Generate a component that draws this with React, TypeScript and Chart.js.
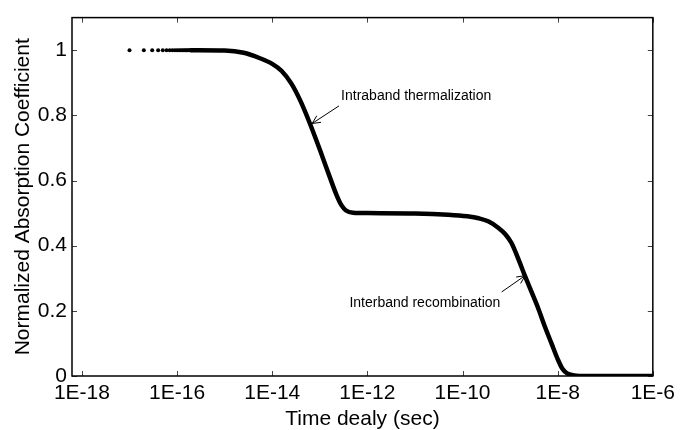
import React, { useEffect, useRef } from 'react';
import { Chart, registerables } from 'chart.js';

Chart.register(...registerables);

// Early samples drawn as individual markers (value stays at 1)
const dotTimes = [1e-17, 2e-17, 3e-17, 4e-17, 5e-17, 6e-17, 7e-17, 8e-17, 9e-17, 1e-16, 1.1e-16, 1.2e-16, 1.3e-16, 1.4e-16, 1.5e-16, 1.6e-16, 1.7e-16, 1.8e-16, 1.9e-16, 2e-16];
const dotValues = [1, 1, 1, 1, 1, 1, 1, 1, 1, 1, 1, 1, 1, 1, 1, 1, 1, 1, 1, 1];

// Main curve (time in seconds, normalized absorption)
const curveTimes = [
  2e-16, 1e-15, 2.51e-15, 5.37e-15, 1e-14, 1.58e-14, 2.51e-14, 3.98e-14, 6.31e-14, 1e-13,
  1.58e-13, 2.24e-13, 2.82e-13, 3.55e-13, 5.01e-13, 1e-12, 1e-11, 5.01e-11, 1.26e-10, 2.19e-10,
  3.55e-10, 5.62e-10, 7.94e-10, 1.07e-9, 1.48e-9, 2.04e-9, 2.82e-9, 3.89e-9, 5.37e-9, 7.41e-9,
  1e-8, 1.26e-8, 1.58e-8, 2.24e-8, 3.98e-8, 1e-7, 1e-6,
];
const curveValues = [
  1.0, 0.999, 0.992, 0.976, 0.958, 0.936, 0.898, 0.842, 0.772, 0.695,
  0.615, 0.556, 0.525, 0.508, 0.501, 0.5, 0.499, 0.495, 0.49, 0.484,
  0.474, 0.455, 0.435, 0.408, 0.36, 0.308, 0.258, 0.208, 0.152, 0.1,
  0.052, 0.022, 0.008, 0.002, 0.0, 0.0, 0.0,
];

const xTickValues = [1e-18, 1e-16, 1e-14, 1e-12, 1e-10, 1e-8, 1e-6];
const xTickLabels = ['1E-18', '1E-16', '1E-14', '1E-12', '1E-10', '1E-8', '1E-6'];
const yTickValues = [0, 0.2, 0.4, 0.6, 0.8, 1];
const yTickLabels = ['0', '0.2', '0.4', '0.6', '0.8', '1'];

const xMin = 6.18e-19;
const xMax = 1e-6;
const yMin = 0;
const yMax = 1.1;

const xTitle = 'Time dealy (sec)';
const yTitle = 'Normalized Absorption Coefficient';

const annotations = [
  { text: 'Intraband thermalization', textX: 2.8e-13, textY: 0.859, align: 'left', fromX: 2.53e-13, fromY: 0.829, toX: 6.9e-14, toY: 0.775 },
  { text: 'Interband recombination', textX: 6.25e-10, textY: 0.225, align: 'right', fromX: 6.65e-10, fromY: 0.258, toX: 2.06e-9, toY: 0.308 },
];

const FONT = "'Liberation Sans', Arial, sans-serif";

const framePlugin = {
  id: 'framePlugin',
  afterDraw(chart: any) {
    const ctx = chart.ctx;
    const { left, right, top, bottom } = chart.chartArea;
    const xs = chart.scales.x;
    const ys = chart.scales.y;
    ctx.save();
    // inward ticks
    ctx.strokeStyle = '#444';
    ctx.lineWidth = 1;
    const tl = 5;
    ctx.beginPath();
    for (const v of xTickValues) {
      const px = Math.round(xs.getPixelForValue(v)) + 0.5;
      ctx.moveTo(px, bottom);
      ctx.lineTo(px, bottom - tl);
      ctx.moveTo(px, top);
      ctx.lineTo(px, top + tl);
    }
    for (const v of yTickValues) {
      const py = Math.round(ys.getPixelForValue(v)) + 0.5;
      ctx.moveTo(left, py);
      ctx.lineTo(left + tl, py);
      ctx.moveTo(right, py);
      ctx.lineTo(right - tl, py);
    }
    ctx.stroke();
    // frame
    ctx.strokeStyle = '#000';
    ctx.lineWidth = 1.5;
    ctx.strokeRect(left, top, right - left, bottom - top);

    // annotations
    ctx.fillStyle = '#000';
    ctx.font = `14px ${FONT}`;
    ctx.textBaseline = 'middle';
    for (const a of annotations) {
      ctx.textAlign = a.align as CanvasTextAlign;
      ctx.fillText(a.text, xs.getPixelForValue(a.textX), ys.getPixelForValue(a.textY));
      const fx = xs.getPixelForValue(a.fromX);
      const fy = ys.getPixelForValue(a.fromY);
      const tx = xs.getPixelForValue(a.toX);
      const ty = ys.getPixelForValue(a.toY);
      ctx.strokeStyle = '#000';
      ctx.lineWidth = 1;
      ctx.beginPath();
      ctx.moveTo(fx, fy);
      ctx.lineTo(tx, ty);
      const ang = Math.atan2(ty - fy, tx - fx);
      const hl = 9;
      const ha = 0.45;
      ctx.moveTo(tx - hl * Math.cos(ang - ha), ty - hl * Math.sin(ang - ha));
      ctx.lineTo(tx, ty);
      ctx.lineTo(tx - hl * Math.cos(ang + ha), ty - hl * Math.sin(ang + ha));
      ctx.stroke();
    }
    ctx.restore();
  },
};

export default function App() {
  const canvasRef = useRef<HTMLCanvasElement | null>(null);

  useEffect(() => {
    const canvas = canvasRef.current;
    if (!canvas) return;
    const chart = new Chart(canvas, {
      type: 'line',
      data: {
        datasets: [
          {
            label: 'samples',
            data: dotTimes.map((t, i) => ({ x: t, y: dotValues[i] })),
            showLine: false,
            pointRadius: 2,
            pointBackgroundColor: '#000',
            pointBorderWidth: 0,
            borderColor: '#000',
          },
          {
            label: 'curve',
            data: curveTimes.map((t, i) => ({ x: t, y: curveValues[i] })),
            borderColor: '#000',
            borderWidth: 4.5,
            borderJoinStyle: 'round',
            borderCapStyle: 'round',
            pointRadius: 0,
            fill: false,
            cubicInterpolationMode: 'monotone',
          },
        ],
      },
      options: {
        animation: false,
        responsive: false,
        devicePixelRatio: 1,
        layout: { padding: { left: 0, top: 10, right: 25, bottom: 0 } },
        plugins: { legend: { display: false }, tooltip: { enabled: false } },
        scales: {
          x: {
            type: 'logarithmic',
            min: xMin,
            max: xMax,
            grid: { display: false, drawTicks: false },
            border: { display: false },
            afterBuildTicks: (scale: any) => {
              scale.ticks = xTickValues.map((v) => ({ value: v }));
            },
            afterFit: (scale: any) => {
              scale.height = 54;
            },
            ticks: {
              autoSkip: false,
              maxRotation: 0,
              padding: 5,
              color: '#000',
              font: { family: FONT, size: 21 },
              callback: (value: any) => {
                const i = xTickValues.findIndex((v) => Math.abs(Math.log10(v) - Math.log10(Number(value))) < 1e-6);
                return i >= 0 ? xTickLabels[i] : '';
              },
            },
            title: {
              display: true,
              text: xTitle,
              color: '#000',
              font: { family: FONT, size: 21, lineHeight: 1 },
              padding: { top: 6, bottom: 0 },
            },
          },
          y: {
            type: 'linear',
            min: yMin,
            max: yMax,
            grid: { display: false, drawTicks: false },
            border: { display: false },
            afterBuildTicks: (scale: any) => {
              scale.ticks = yTickValues.map((v) => ({ value: v }));
            },
            afterFit: (scale: any) => {
              scale.width = 72;
            },
            ticks: {
              padding: 5,
              color: '#000',
              font: { family: FONT, size: 21 },
              callback: (value: any) => {
                const i = yTickValues.findIndex((v) => Math.abs(v - Number(value)) < 1e-9);
                return i >= 0 ? yTickLabels[i] : '';
              },
            },
            title: {
              display: true,
              text: yTitle,
              color: '#000',
              font: { family: FONT, size: 21, lineHeight: 1 },
              padding: { top: 13, bottom: 0 },
            },
          },
        },
      },
      plugins: [framePlugin],
    } as any);
    return () => chart.destroy();
  }, []);

  return (
    <div style={{ position: 'absolute', left: 0, top: 0, width: 680, height: 430, background: '#fff' }}>
      <canvas ref={canvasRef} width={680} height={430} />
    </div>
  );
}
